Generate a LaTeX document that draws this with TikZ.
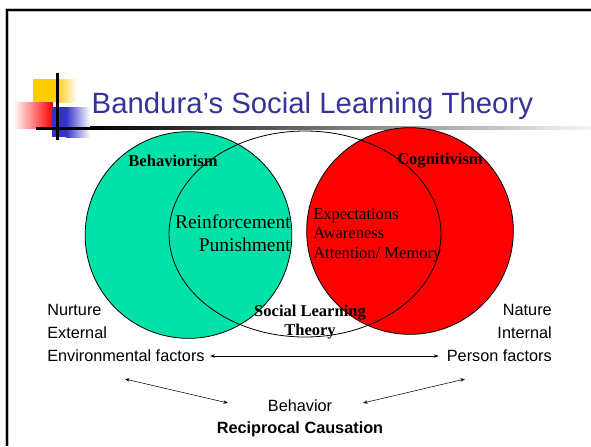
\documentclass[tikz,border=0pt]{standalone}
\usepackage{fontspec}
\setmainfont{Liberation Serif}
\newfontfamily\arial{Liberation Sans}
\usetikzlibrary{arrows.meta,shapes.geometric}

\definecolor{titleblue}{RGB}{51,51,153}
\definecolor{behgreen}{RGB}{0,226,168}
\definecolor{logoyellow}{RGB}{255,204,0}
\definecolor{logoblue}{RGB}{51,51,204}

\begin{document}
\begin{tikzpicture}[x=0.75pt,y=-0.75pt,
	venn/.style={shape=circle,draw=black,line width=0.6pt,inner sep=0pt,minimum size=155pt},
	sans/.style={font=\arial\fontsize{12.2}{14.6}\selectfont},
	serif/.style={font=\fontsize{12.4}{14.6}\selectfont},
	big/.style={font=\fontsize{14.6}{17.2}\selectfont},
	link/.style={{Stealth[length=3.5pt,width=2.6pt]}-{Stealth[length=3.5pt,width=2.6pt]},line width=0.4pt}]
	
	\useasboundingbox (0,0) rectangle (591,446);
	
	% slide frame
	\draw[gray!50,line width=2.6pt] (7,446) -- (7,10) -- (591,10);
	\draw[black,line width=1.6pt] (7,446) -- (7,10) -- (591,10);
	
	% logo squares and rules
	\fill[logoyellow] (33,79) rectangle (56,102);
	\shade[left color=logoyellow,right color=white] (56,79) rectangle (77,102);
	\shade[left color=white,right color=red] (13,102) rectangle (53,128);
	\fill[logoblue] (52,107) rectangle (66,137);
	\shade[left color=logoblue,right color=white] (66,107) rectangle (90,137);
	\fill[black] (56,73) rectangle (59,140);
	\fill[black] (36,126.5) rectangle (90,129.5);
	\shade[left color=black,right color=gray!8] (90,126.5) rectangle (591,129.5);
	
	\node[anchor=base west,text=titleblue,font=\arial\fontsize{22}{26}\selectfont] (title) at (87,113) {Bandura’s Social Learning Theory};
	
	% the three circles
	\node[venn,fill=behgreen] (beh) at (188.5,235) {};
	\node[venn,fill=red] (cog) at (410,231) {};
	\node[shape=ellipse,draw=black,line width=0.6pt,inner sep=0pt,minimum width=204pt,minimum height=154.5pt] (slt) at (305,234) {};
	
	\node[serif,font=\bfseries\fontsize{12.4}{14.6}\selectfont] (behlabel) at (173,161) {Behaviorism};
	\node[serif,font=\bfseries\fontsize{12.4}{14.6}\selectfont] (coglabel) at (440,161) {Cognitivism};
	\node[big,anchor=east,align=right,inner sep=0pt] (reinf) at (291,233) {Reinforcement\\Punishment};
	\node[serif,anchor=west,align=left,inner sep=0pt] (expect) at (313,235) {Expectations\\Awareness\\Attention/ Memory};
	\node[serif,font=\bfseries\fontsize{12.4}{14.6}\selectfont,align=center,inner sep=0pt] (sltlabel) at (310,322) {Social Learning\\Theory};
	
	% factors and reciprocal causation
	\node[sans,anchor=west,align=left,inner sep=0pt] (nurture) at (47,310) {Nurture};
	\node[sans,anchor=west,inner sep=0pt] (external) at (47,333) {External};
	\node[sans,anchor=west,inner sep=0pt] (env) at (47,356) {Environmental factors};
	\node[sans,anchor=east,inner sep=0pt] (nature) at (552,310) {Nature};
	\node[sans,anchor=east,inner sep=0pt] (internal) at (552,333) {Internal};
	\node[sans,anchor=east,inner sep=0pt] (person) at (552,356) {Person factors};
	\node[sans,inner sep=0pt] (behavior) at (300,406) {Behavior};
	\node[sans,font=\arial\bfseries\fontsize{12.2}{14.6}\selectfont,inner sep=0pt] (recip) at (300,429) {Reciprocal Causation};
	
	\coordinate (envlow) at (125,379);
	\coordinate (behleft) at (228,403);
	\coordinate (behright) at (363,403);
	\coordinate (personlow) at (465,379);
	
	\draw[link,shorten <=4pt,shorten >=6pt] (env.east) -- (person.west);
	\draw[link] (envlow) -- (behleft);
	\draw[link] (behright) -- (personlow);
	
\end{tikzpicture}
\end{document}
